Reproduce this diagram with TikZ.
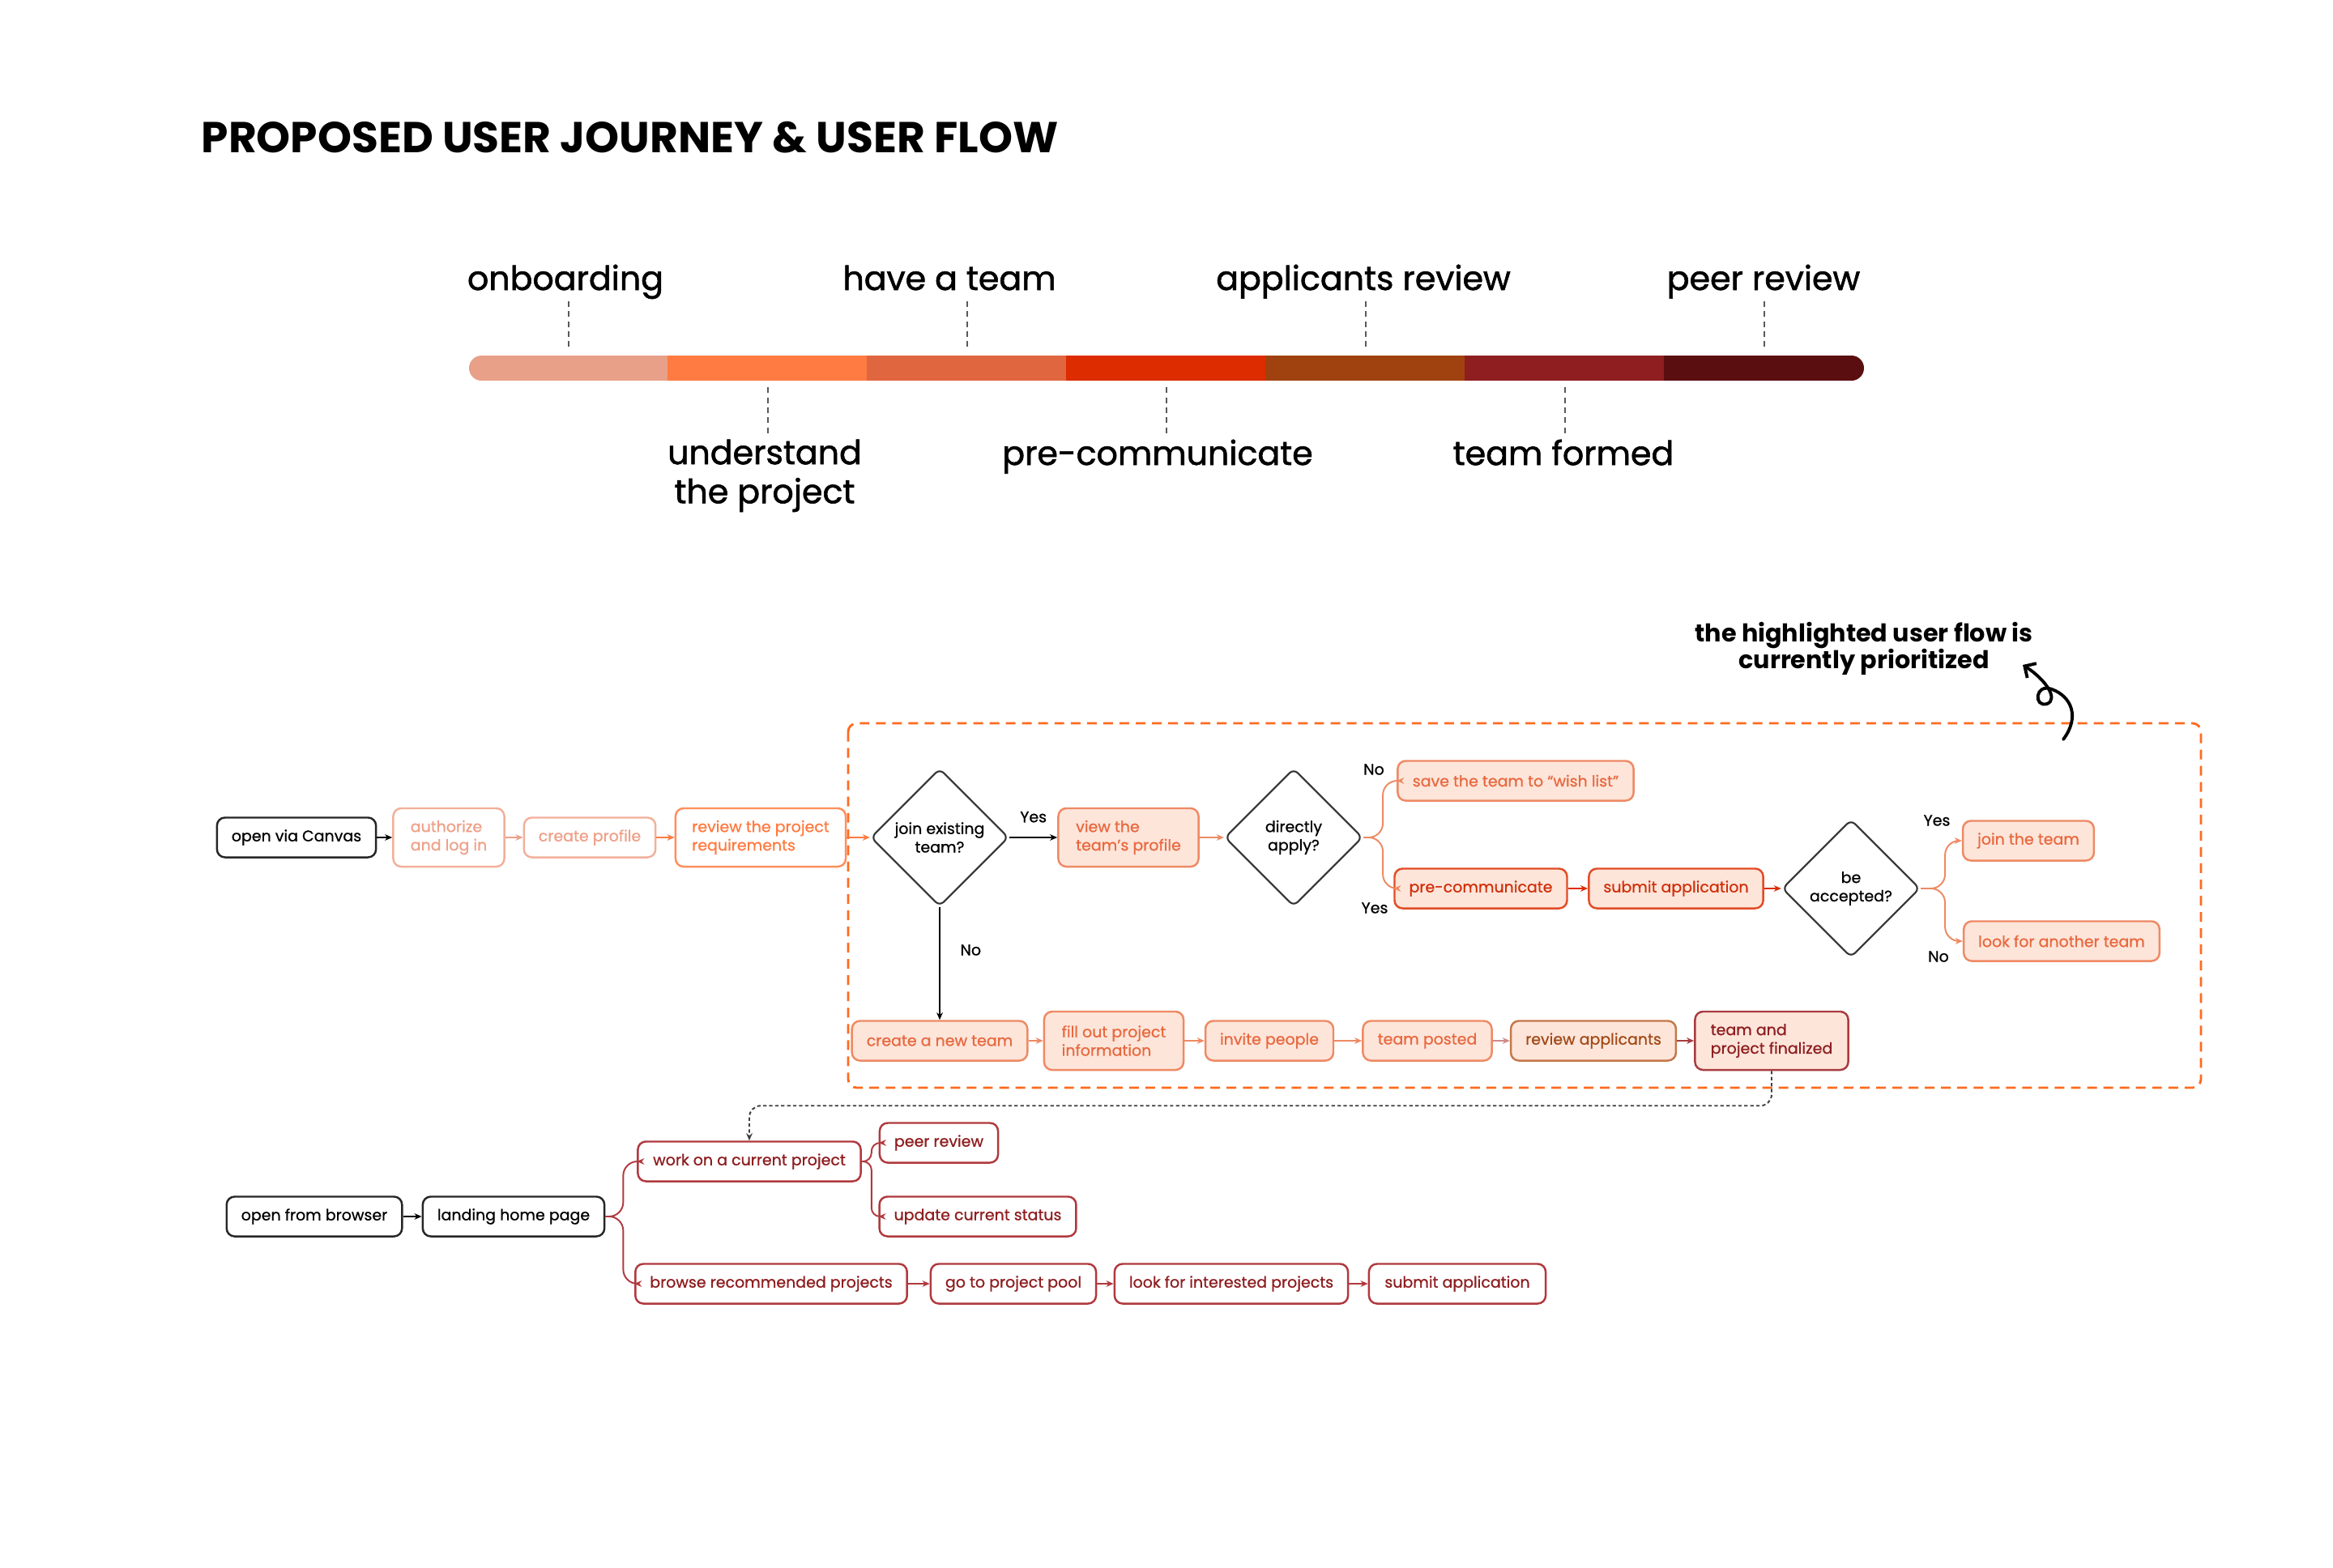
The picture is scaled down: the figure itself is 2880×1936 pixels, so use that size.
\documentclass[tikz,border=0pt]{standalone}
\usepackage{fontspec}
\setmainfont{Poppins}
\newfontfamily\medfont{Poppins}[Ligatures=TeX, FakeBold=0.8]
\newfontfamily\stagefont{Poppins}[Ligatures=TeX, FakeBold=1.4]
\usepackage{tikz}
\usetikzlibrary{arrows.meta,shapes.geometric,positioning}

% journey stages
\definecolor{stOnb}{HTML}{E9A088}
\definecolor{stUnd}{HTML}{FF7B41}
\definecolor{stTeam}{HTML}{E06640}
\definecolor{stPre}{HTML}{DD2C00}
\definecolor{stApp}{HTML}{A0420F}
\definecolor{stForm}{HTML}{8E1E20}
\definecolor{stPeer}{HTML}{5A0E10}
% boxes
\definecolor{peach}{HTML}{FDE5DA}
\definecolor{onbLine}{HTML}{F2B09A}
\definecolor{onbText}{HTML}{EFA088}
\definecolor{undLine}{HTML}{FF8F5C}
\definecolor{tmLine}{HTML}{EE8A64}
\definecolor{tmText}{HTML}{E8693F}
\definecolor{preText}{HTML}{D0300A}
\definecolor{appLine}{HTML}{C4784A}
\definecolor{appText}{HTML}{A14A17}
\definecolor{finLine}{HTML}{A83C40}
\definecolor{curLine}{HTML}{B0393E}
\definecolor{postArrow}{HTML}{D08A8A}
\definecolor{prioFrame}{HTML}{FF6A1F}

\newcommand\fs{\medfont\fontsize{5.4}{6.5}\selectfont}

\begin{document}
\begin{tikzpicture}[x=0.01cm, y=-0.01cm,
  box/.style={draw, rounded corners=2.8pt, line width=0.7pt, inner xsep=0.18cm, inner ysep=0pt, minimum height=0.49cm, font=\fs, align=left},
  tall/.style={minimum height=0.72cm},
  plain/.style={box, draw=black!85, fill=white, text=black},
  onb/.style={box, draw=onbLine, fill=white, text=onbText},
  und/.style={box, draw=undLine, fill=white, text=stUnd},
  tm/.style={box, draw=tmLine, fill=peach, text=tmText},
  pre/.style={box, draw=stPre!85, fill=peach, text=preText},
  app/.style={box, draw=appLine, fill=peach, text=appText},
  fin/.style={box, draw=finLine, fill=peach, text=stForm},
  cur/.style={box, draw=curLine, fill=white, text=stForm},
  ques/.style={diamond, draw=black!80, line width=0.6pt, rounded corners=2pt, minimum width=1.7cm, minimum height=1.7cm, inner sep=0pt, font=\fs, align=center},
  lbl/.style={font=\fs, inner sep=0pt},
  flow/.style={-{Stealth[length=2.6pt,width=2.2pt]}, line width=0.55pt},
  link/.style={-{Stealth[length=2.6pt,width=2.2pt]}, line width=0.55pt, black!75, dash pattern=on 1.2pt off 0.9pt, rounded corners=4pt},
  seg/.style={minimum width=2.47cm, minimum height=0.31cm, inner sep=0pt},
  stage/.style={font=\stagefont\fontsize{11.7}{13.7}\selectfont, inner sep=0pt, align=center},
  tick/.style={draw=black!65, line width=0.3pt, dash pattern=on 2pt off 1.5pt}]

\fill[white] (0,0) rectangle (2880,1936);
\useasboundingbox (0,0) rectangle (2880,1936);

\node[anchor=base west, font=\fontsize{15.2}{18}\selectfont\bfseries, inner sep=0pt] (title) at (248,189) {PROPOSED USER JOURNEY \& USER FLOW};

% journey bar
\begin{scope}
  \clip[rounded corners=4.4pt] (579,439) rectangle (2301,470);
  \foreach \c [count=\i] in {stOnb,stUnd,stTeam,stPre,stApp,stForm,stPeer}
    \node[seg, fill=\c] (s\i) at ({579+246*(\i-0.5)},454.5) {};
\end{scope}

\node[stage, anchor=base, text depth=0.28em] (lonb) at (698,358) {onboarding};
\node[stage, anchor=base, text depth=0.28em] (lhave) at (1172,358) {have a team};
\node[stage, anchor=base, text depth=0.28em] (lapp) at (1683,358) {applicants review};
\node[stage, anchor=base, text depth=0.28em] (lpeer) at (2177,358) {peer review};
\node[stage, anchor=north] (lund) at (944,542) {understand\\the project};
\node[stage, anchor=north] (lpre) at (1429,542) {pre-communicate};
\node[stage, anchor=north] (lform) at (1930,542) {team formed};

\draw[tick, shorten <=1pt, shorten >=2pt] (lonb.south -| s1.north) -- (s1.north);
\draw[tick, shorten <=1pt, shorten >=2pt] (lhave.south -| s3.north) -- (s3.north);
\draw[tick, shorten <=1pt, shorten >=2pt] (lapp.south -| s5.north) -- (s5.north);
\draw[tick, shorten <=1pt, shorten >=2pt] (lpeer.south -| s7.north) -- (s7.north);
\draw[tick, shorten <=2.2pt, shorten >=2pt] (s2.south) -- (lund.north -| s2.south);
\draw[tick, shorten <=2.2pt, shorten >=2pt] (s4.south) -- (lpre.north -| s4.south);
\draw[tick, shorten <=2.2pt, shorten >=2pt] (s6.south) -- (lform.north -| s6.south);

% prioritized flow
\draw[prioFrame, line width=0.8pt, dash pattern=on 3.4pt off 2.3pt, rounded corners=3pt] (1047,893) rectangle (2717,1343);
\node[font=\fontsize{8.6}{9.4}\selectfont\bfseries, align=center, inner sep=0pt] (note) at (2301,801) {the highlighted user flow is\\currently prioritized};
\coordinate (curl) at (2547,913);
\coordinate (tip) at (2497,821);
\draw[line width=1.1pt, line cap=round, -{Straight Barb[length=3pt,width=6pt]}] (curl) .. controls (2568,885) and (2557,860) .. (2533,851) .. controls (2512,843) and (2510,874) .. (2527,869) .. controls (2542,863) and (2524,838) .. (tip);

\node[plain, minimum width=1.89cm] (canvas) at (366,1034) {open via Canvas};
\node[onb, tall, minimum width=1.37cm] (auth) at (554,1034) {authorize\\and log in};
\node[onb, minimum width=1.60cm] (prof) at (728,1034) {create profile};
\node[und, tall, minimum width=2.10cm] (req) at (939,1034) {review the project\\requirements};
\node[ques] (join) at (1160,1034) {join existing\\team?};
\node[tm, tall, minimum width=1.73cm] (view) at (1393,1034) {view the\\team's profile};
\node[ques] (direct) at (1597,1034) {directly\\apply?};
\node[tm, minimum width=2.91cm] (wish) at (1871,964) {save the team to ``wish list''};
\node[pre, minimum width=2.05cm] (precomm) at (1828,1097) {pre-communicate};
\node[pre, minimum width=2.13cm] (apply) at (2069,1097) {submit application};
\node[ques] (accept) at (2285,1097) {be\\accepted?};
\node[tm, minimum width=1.59cm] (jointeam) at (2504,1038) {join the team};
\node[tm, minimum width=2.40cm] (another) at (2545,1162) {look for another team};

\node[tm, minimum width=2.09cm] (newteam) at (1160,1285) {create a new team};
\node[tm, tall, minimum width=1.72cm] (fillout) at (1375,1285) {fill out project\\information};
\node[tm, minimum width=1.56cm] (invite) at (1567,1285) {invite people};
\node[tm, minimum width=1.59cm] (posted) at (1762,1285) {team posted};
\node[app, minimum width=2.01cm] (review) at (1967,1285) {review applicants};
\node[fin, tall, minimum width=1.89cm] (final) at (2187,1285) {team and\\project finalized};

\node[lbl] (no2) at (1696,950) {No};
\node[lbl] (yes2) at (1697,1121) {Yes};
\node[lbl] (yes3) at (2391,1013) {Yes};
\node[lbl] (no3) at (2393,1181) {No};

\draw[flow] (canvas) -- (auth);
\draw[flow, onbText] (auth) -- (prof);
\draw[flow, stUnd] (prof) -- (req);
\draw[flow, stUnd] (req) -- (join);
\draw[flow] (join) -- node[lbl, above=5pt] (yes1) {Yes} (view);
\draw[flow, tmLine] (view) -- (direct);
\draw[flow, tmLine, rounded corners=5pt] (direct.east) -- ++(24,0) |- (wish.west);
\draw[flow, tmLine, rounded corners=5pt] (direct.east) -- ++(24,0) |- (precomm.west);
\draw[flow, stPre] (precomm) -- (apply);
\draw[flow, stPre] (apply) -- (accept);
\draw[flow, tmLine, rounded corners=5pt] (accept.east) -- ++(30,0) |- (jointeam.west);
\draw[flow, tmLine, rounded corners=5pt] (accept.east) -- ++(30,0) |- (another.west);
\draw[flow] (join) -- node[lbl, pos=0.38, right=7pt] (no1) {No} (newteam);

\draw[flow, tmLine] (newteam) -- (fillout);
\draw[flow, tmLine] (fillout) -- (invite);
\draw[flow, tmLine] (invite) -- (posted);
\draw[flow, postArrow] (posted) -- (review);
\draw[flow, finLine] (review) -- (final);

% entry from browser
\node[plain, minimum width=2.15cm] (browser) at (388,1502) {open from browser};
\node[plain, minimum width=2.19cm] (home) at (634,1502) {landing home page};
\node[cur, minimum width=2.75cm] (work) at (925,1434) {work on a current project};
\node[cur, minimum width=1.45cm] (peer) at (1159,1411) {peer review};
\node[cur, minimum width=2.40cm] (status) at (1207,1502) {update current status};
\node[cur, minimum width=3.29cm] (browse) at (952,1585) {browse recommended projects};
\node[cur, minimum width=2.02cm] (pool) at (1251,1585) {go to project pool};
\node[cur, minimum width=2.88cm] (look) at (1520,1585) {look for interested projects};
\node[cur, minimum width=2.18cm] (submit) at (1799,1585) {submit application};

\draw[link] (final.south) -- ++(0,43) -| (work.north);
\draw[flow] (browser) -- (home);
\draw[flow, curLine, rounded corners=5pt] (home.east) -- ++(22,0) |- (work.west);
\draw[flow, curLine, rounded corners=5pt] (home.east) -- ++(22,0) |- (browse.west);
\draw[flow, curLine, rounded corners=3pt] (work.east) -- ++(12,0) |- (peer.west);
\draw[flow, curLine, rounded corners=3pt] (work.east) -- ++(12,0) |- (status.west);
\draw[flow, curLine] (browse) -- (pool);
\draw[flow, curLine] (pool) -- (look);
\draw[flow, curLine] (look) -- (submit);
\end{tikzpicture}
\end{document}
